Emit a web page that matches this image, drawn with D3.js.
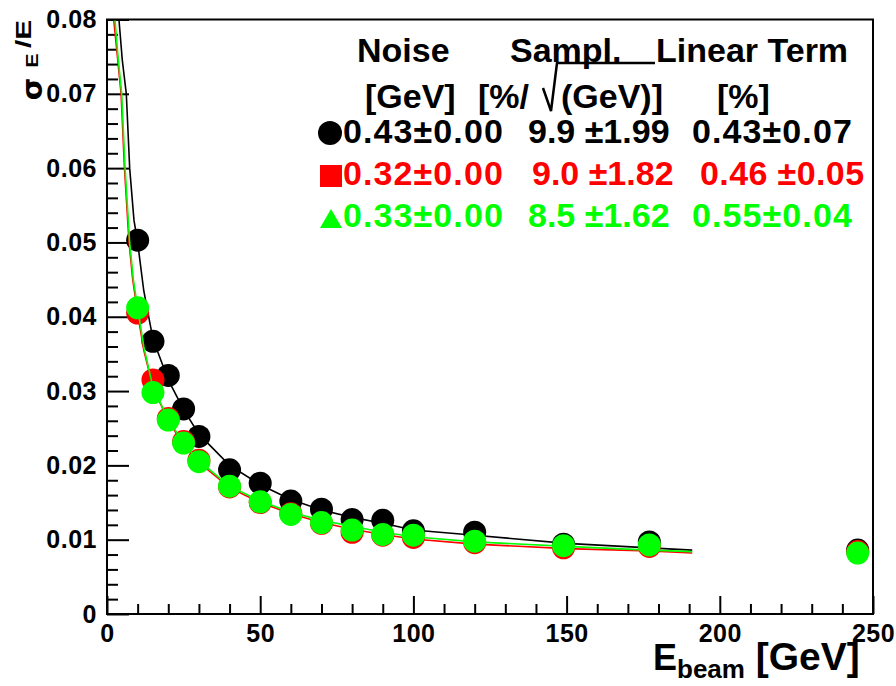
<!DOCTYPE html>
<html>
<head>
<meta charset="utf-8">
<script src="https://cdn.jsdelivr.net/npm/d3@7"></script>
<style>
  body { margin: 0; background: #fff; }
  svg { display: block; }
  text { font-family: "Liberation Sans", Arial, Helvetica, sans-serif; font-weight: bold; }
</style>
</head>
<body>
<svg id="chart" width="896" height="686"></svg>
<script>
// Beam energies of the measured points [GeV]
const energies = [10, 15, 20, 25, 30, 40, 50, 60, 70, 80, 90, 100, 120, 149, 177, 245];

// Relative energy resolution sigma_E/E for the three samples
const resBlack = [0.0503, 0.0367, 0.0321, 0.0276, 0.0239, 0.0194, 0.0176, 0.0152, 0.0141, 0.0127, 0.0126, 0.0112, 0.0110, 0.0094, 0.0097, 0.0086];
const resRed   = [0.0405, 0.0315, 0.0263, 0.0232, 0.0207, 0.0171, 0.0150, 0.0135, 0.0122, 0.0110, 0.0106, 0.0103, 0.0096, 0.0089, 0.0091, 0.0084];
const resGreen = [0.0412, 0.0298, 0.0261, 0.0230, 0.0205, 0.0172, 0.0151, 0.0134, 0.0123, 0.0113, 0.0107, 0.0106, 0.0098, 0.0092, 0.0093, 0.0082];

// Fitted resolution curves (energy, sigma_E/E)
const fitBlackE = [3.9, 5, 6.3, 7.4, 8.8, 10, 12, 15, 20, 25, 30, 40, 50, 60, 70, 80, 90, 100, 120, 150, 177, 191];
const fitBlackV = [0.080, 0.0745, 0.070, 0.060, 0.053, 0.0500, 0.0435, 0.0370, 0.0315, 0.0275, 0.0242, 0.0200, 0.0174, 0.0154, 0.0140, 0.0130, 0.0122, 0.0113, 0.0106, 0.0095, 0.0089, 0.0086];
const fitRedE   = [2.2, 3.4, 4.6, 5.7, 7.2, 8.4, 10, 12, 15, 20, 25, 30, 40, 50, 60, 70, 80, 90, 100, 120, 150, 177, 191];
const fitRedV   = [0.080, 0.075, 0.070, 0.060, 0.050, 0.045, 0.0405, 0.0355, 0.0305, 0.0260, 0.0228, 0.0204, 0.0170, 0.0150, 0.0135, 0.0123, 0.0114, 0.0107, 0.0101, 0.0094, 0.0088, 0.0085, 0.0082];
const fitGreenE = [2.6, 3.6, 4.8, 5.9, 7.4, 8.6, 10, 12, 15, 20, 25, 30, 40, 50, 60, 70, 80, 90, 100, 120, 150, 177, 191];
const fitGreenV = [0.080, 0.075, 0.070, 0.060, 0.050, 0.045, 0.0412, 0.0360, 0.0305, 0.0262, 0.0230, 0.0206, 0.0172, 0.0152, 0.0137, 0.0126, 0.0118, 0.0110, 0.0104, 0.0097, 0.0091, 0.0086, 0.0084];

// Axis ticks
const xTickValues = [0, 50, 100, 150, 200, 250];
const xTickLabels = ["0", "50", "100", "150", "200", "250"];
const yTickValues = [0, 0.01, 0.02, 0.03, 0.04, 0.05, 0.06, 0.07, 0.08];
const yTickLabels = ["0", "0.01", "0.02", "0.03", "0.04", "0.05", "0.06", "0.07", "0.08"];

// Fit parameter table
const legendNoise  = ["0.43\u00b10.00", "0.32\u00b10.00", "0.33\u00b10.00"];
const legendSampl  = ["9.9 \u00b11.99", "9.0 \u00b11.82", "8.5 \u00b11.62"];
const legendLinear = ["0.43\u00b10.07", "0.46 \u00b10.05", "0.55\u00b10.04"];

const colors = ["#000000", "#ff0000", "#00ff00"];

const svg = d3.select("#chart");
const frame = { left: 107, right: 873, top: 19.5, bottom: 614 };

const x = d3.scaleLinear().domain([0, 250]).range([frame.left, frame.right]);
const y = d3.scaleLinear().domain([0, 0.08]).range([frame.bottom, frame.top]);

svg.append("rect").attr("width", 896).attr("height", 686).attr("fill", "#fff");

svg.append("defs").append("clipPath").attr("id", "plotClip")
  .append("rect")
  .attr("x", frame.left).attr("y", frame.top)
  .attr("width", frame.right - frame.left).attr("height", frame.bottom - frame.top);

// Axes: major and minor ticks pointing into the frame
function styleAxis(g, fontSize) {
  g.select(".domain").remove();
  g.selectAll(".tick line").attr("stroke", "#000").attr("stroke-width", 2);
  g.selectAll(".tick text").attr("fill", "#000")
    .style("font-size", fontSize + "px")
    .style("font-weight", "bold")
    .style("letter-spacing", "0.5px")
    .style("font-family", '"Liberation Sans", Arial, sans-serif');
}

const yMinor = d3.range(0, 0.0801, 0.002).filter(v => Math.abs(v * 100 - Math.round(v * 100)) > 1e-6);
const xMinor = d3.range(0, 250.1, 10).filter(v => v % 50 !== 0);

svg.append("g").attr("transform", `translate(${frame.left},0)`)
  .call(d3.axisLeft(y).tickValues(yMinor).tickSize(-11).tickSizeOuter(0).tickFormat(""))
  .call(g => styleAxis(g, 25));
svg.append("g").attr("transform", `translate(${frame.left},0)`)
  .call(d3.axisLeft(y).tickValues(yTickValues).tickSize(-22).tickSizeOuter(0).tickPadding(10)
    .tickFormat((d, i) => yTickLabels[i]))
  .call(g => styleAxis(g, 25));

svg.append("g").attr("transform", `translate(0,${frame.bottom})`)
  .call(d3.axisBottom(x).tickValues(xMinor).tickSize(-10).tickSizeOuter(0).tickFormat(""))
  .call(g => styleAxis(g, 25));
svg.append("g").attr("transform", `translate(0,${frame.bottom})`)
  .call(d3.axisBottom(x).tickValues(xTickValues).tickSize(-18).tickSizeOuter(0).tickPadding(10)
    .tickFormat((d, i) => xTickLabels[i]))
  .call(g => styleAxis(g, 25));

// Data: markers and fitted curve for each sample
const series = [
  { values: resBlack, fitE: fitBlackE, fitV: fitBlackV, color: colors[0] },
  { values: resRed,   fitE: fitRedE,   fitV: fitRedV,   color: colors[1] },
  { values: resGreen, fitE: fitGreenE, fitV: fitGreenV, color: colors[2] }
];

const line = d3.line().x(d => x(d[0])).y(d => y(d[1]));
const plot = svg.append("g").attr("clip-path", "url(#plotClip)");

series.forEach(s => {
  plot.append("g").selectAll("circle")
    .data(energies.map((e, i) => [e, s.values[i]]))
    .join("circle")
    .attr("cx", d => x(d[0]))
    .attr("cy", d => y(d[1]))
    .attr("r", 11.5)
    .attr("fill", s.color);
  plot.append("path")
    .datum(s.fitE.map((e, i) => [e, s.fitV[i]]))
    .attr("d", line)
    .attr("fill", "none")
    .attr("stroke", s.color)
    .attr("stroke-width", 1.6);
});

// Frame
svg.append("rect")
  .attr("x", frame.left).attr("y", frame.top)
  .attr("width", frame.right - frame.left).attr("height", frame.bottom - frame.top)
  .attr("fill", "none").attr("stroke", "#000").attr("stroke-width", 2);

// X-axis title
const xt = svg.append("text").attr("x", 653).attr("y", 670).attr("fill", "#000");
xt.append("tspan").style("font-size", "36px").text("E");
xt.append("tspan").style("font-size", "26px").attr("dy", 8).text("beam");
xt.append("tspan").style("font-size", "39px").attr("dy", -8).text(" [GeV]");

// Y-axis title: sigma_E / E, rotated
svg.append("text")
  .attr("transform", "translate(42,89) rotate(-90)")
  .attr("text-anchor", "middle")
  .style("font-family", '"DejaVu Sans", sans-serif')
  .style("font-weight", "bold")
  .style("font-size", "29px")
  .text("\u03c3");
svg.append("text")
  .attr("transform", "translate(38,60.5) rotate(-90) scale(1.35,1)")
  .attr("text-anchor", "middle")
  .style("font-size", "16px")
  .text("E");
svg.append("text")
  .attr("transform", "translate(31,20) rotate(-90) scale(1.35,1)")
  .attr("text-anchor", "end")
  .style("font-size", "22px")
  .text("/E");

// Fit parameter table
const tbl = svg.append("g").style("font-size", "34px");
tbl.append("text").attr("x", 357).attr("y", 62).text("Noise");
tbl.append("text").attr("x", 510).attr("y", 62).text("Sampl.");
tbl.append("text").attr("x", 656).attr("y", 62).text("Linear Term");
tbl.append("text").attr("x", 365).attr("y", 108).text("[GeV]");
tbl.append("text").attr("x", 478).attr("y", 108).text("[%/");
tbl.append("text").attr("x", 561).attr("y", 108).text("(GeV)]");
tbl.append("text").attr("x", 717).attr("y", 108).text("[%]");
// radical sign over (GeV)
tbl.append("path")
  .attr("d", "M543,88 L551,111 L557,63 L655,63")
  .attr("fill", "none").attr("stroke", "#000").attr("stroke-width", 2.5);

const rowBase = [143, 185, 227];
series.forEach((s, i) => {
  tbl.append("text").attr("x", 343).attr("y", rowBase[i]).attr("fill", s.color)
    .style("letter-spacing", "1.1px").text(legendNoise[i]);
  tbl.append("text").attr("x", i === 1 ? 532 : 528).attr("y", rowBase[i]).attr("fill", s.color)
    .text(legendSampl[i]);
  tbl.append("text").attr("x", i === 1 ? 700 : 692).attr("y", rowBase[i]).attr("fill", s.color)
    .style("letter-spacing", i === 1 ? "0.4px" : "1.1px").text(legendLinear[i]);
});
// legend markers: circle, square, triangle
tbl.append("circle").attr("cx", 330).attr("cy", 133).attr("r", 12).attr("fill", colors[0]);
tbl.append("rect").attr("x", 320).attr("y", 165).attr("width", 22).attr("height", 22).attr("fill", colors[1]);
tbl.append("path").attr("d", "M320,228 L342,228 L331,209 Z").attr("fill", colors[2]);
</script>
</body>
</html>
